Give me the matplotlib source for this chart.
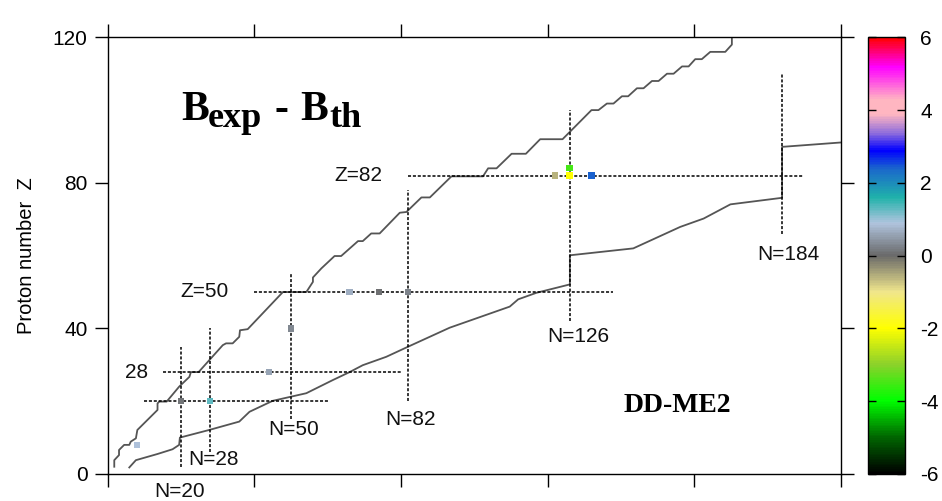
import numpy as np
import matplotlib
matplotlib.use('Agg')
import matplotlib.pyplot as plt
from matplotlib.colors import LinearSegmentedColormap, Normalize
from matplotlib.cm import ScalarMappable

plt.rcParams['font.family'] = ['Liberation Sans', 'DejaVu Sans']
plt.rcParams['axes.unicode_minus'] = False

# proton drip line (N, Z)
up_N = [1.8, 1.8, 3.1, 3.1, 4.5, 5.9, 6.3, 7.7, 8.1, 13.6, 13.6, 14.1, 16.1,
        19.5, 22.3, 22.7, 24.8, 31.4, 32.3, 34.1, 35.9, 36.1, 38.2, 47.8, 54.2,
        56.0, 56.0, 58.3, 61.9, 63.7, 68.3, 69.6, 71.9, 74.2, 79.7, 81.5, 85.6,
        87.9, 93.8, 102.4, 103.8, 106.1, 110.2, 114.1, 118.0, 124.1, 132.0,
        133.9, 136.2, 138.0, 140.3, 142.0, 144.4, 146.2, 148.5, 150.3, 152.6,
        154.4, 156.7, 158.5, 160.3, 162.1, 164.4, 168.5, 170.3, 170.3]
up_Z = [2.0, 3.8, 5.2, 6.6, 8.0, 8.0, 8.9, 9.8, 12.1, 17.6, 19.4, 19.9, 19.9,
        24.0, 26.7, 28.0, 28.0, 35.4, 35.9, 35.9, 37.7, 39.5, 39.8, 50.0, 50.0,
        52.8, 54.0, 56.5, 59.9, 59.9, 64.0, 64.0, 66.1, 66.1, 71.8, 72.0, 76.0,
        76.0, 81.8, 81.8, 84.0, 84.0, 88.0, 88.0, 92.0, 92.0, 100.0,
        100.0, 101.8, 101.8, 103.8, 103.8, 106.0, 106.0, 108.0, 108.0, 110.0,
        110.0, 112.0, 112.0, 114.0, 114.0, 116.0, 116.0, 118.0, 120.0]

# neutron drip line (N, Z)
lo_N = [5.9, 7.7, 13.6, 17.7, 19.5, 19.7, 27.7, 35.9, 38.7, 45.0, 54.2, 61.4,
        66.0, 69.6, 76.0, 82.0, 93.3, 109.7, 112.0, 117.0, 126.1, 126.1, 143.4,
        156.2, 162.6, 169.9, 184.0, 184.0, 200.0]
lo_Z = [1.8, 3.8, 5.5, 6.8, 8.0, 10.0, 12.1, 14.4, 17.1, 20.1, 22.2, 25.8,
        28.0, 29.9, 32.2, 35.0, 40.2, 46.0, 48.0, 49.8, 52.1, 60.1, 62.0,
        67.9, 70.2, 74.1, 75.9, 89.9, 91.1]

# magic number guide lines
vline_N = [20, 28, 50, 82, 126, 184]
vline_lo = [2, 6, 15, 20, 42, 66]
vline_hi = [35, 40, 55, 78, 100, 110]
hline_Z = [20, 28, 50, 82]
hline_lo = [10, 15, 40, 82]
hline_hi = [60, 80, 138, 190]

# nuclei with B_exp - B_th (MeV)
nuc_N = [8, 20, 28, 44, 50, 66, 74, 82, 122, 126, 126, 132]
nuc_Z = [8, 20, 20, 28, 40, 50, 50, 50, 82, 82, 84, 82]
nuc_dB = [0.85, 0.1, 1.3, 0.6, 0.3, 0.7, 0.05, 0.25, -0.6, -2.0, -3.5, 2.4]

labels = ["Z=82", "Z=50", "28", "N=20", "N=28", "N=50", "N=82", "N=126", "N=184"]
label_N = [68.4, 26.4, 8.0, 19.7, 28.8, 50.6, 82.6, 128.4, 185.7]
label_Z = [82.0, 50.2, 27.9, -4.9, 4.1, 12.2, 15.0, 37.8, 60.4]

# colour palette nodes
pal_v = [-6, -5, -4, -3, -2, -1, 0, 0.9, 1.6, 2.4, 2.9, 3.4, 3.9, 4.3, 5.2, 6]
pal_c = ['#000000', '#006600', '#00ff00', '#8cd12b', '#ffff00', '#f0e68c',
         '#696969', '#b0c4de', '#20b2aa', '#1a66cc', '#0000ff', '#9370db',
         '#ffb6c1', '#ffb6c1', '#ff00ff', '#ff0000']

cmap = LinearSegmentedColormap.from_list(
    'dB', [((v + 6) / 12.0, c) for v, c in zip(pal_v, pal_c)])
norm = Normalize(-6, 6)

fig = plt.figure(figsize=(9.42, 5.01), dpi=100)
ax = fig.add_axes([0.1143, 0.0539, 0.7782, 0.8716])
cax = fig.add_axes([0.9218, 0.0539, 0.039, 0.8716])

ax.plot(up_N, up_Z, color='#555555', lw=1.3)
ax.plot(lo_N, lo_Z, color='#555555', lw=1.3)

ls = (0, (2, 1.2))
for n, a, b in zip(vline_N, vline_lo, vline_hi):
    ax.plot([n, n], [a, b], color='black', lw=1.1, linestyle=ls)
for z, a, b in zip(hline_Z, hline_lo, hline_hi):
    ax.plot([a, b], [z, z], color='black', lw=1.1, linestyle=ls)

ax.scatter(nuc_N, nuc_Z, c=nuc_dB, cmap=cmap, norm=norm, marker='s', s=20,
           linewidths=0, zorder=5)

for t, n, z in zip(labels, label_N, label_Z):
    ax.text(n, z, t, ha='center', va='center', fontsize=15, color='#111111')

# title "B_exp - B_th" built from pieces (large subscripts as in the original)
serif = dict(family='Liberation Serif', fontweight='bold', va='baseline')
ax.text(20.1, 97.2, 'B', fontsize=30, **serif)
ax.text(27.2, 95.3, 'exp', fontsize=26, **serif)
ax.text(45.5, 97.2, '-', fontsize=30, **serif)
ax.text(52.6, 97.2, 'B', fontsize=30, **serif)
ax.text(60.4, 95.3, 'th', fontsize=26, **serif)
ax.text(155.4, 17.1, 'DD-ME2', fontsize=20, family='Liberation Serif',
        fontweight='bold', ha='center', va='baseline')

ax.set_xlim(0, 200)
ax.set_ylim(0, 120)
ax.set_xticks(np.arange(0, 201, 40))
ax.set_yticks([0, 40, 80, 120])
ax.set_xticklabels([])
ax.tick_params(direction='out', length=9.4, width=1, labelsize=15,
               top=True, right=True, pad=5)
ax.set_ylabel('Proton number  Z', fontsize=14.5, labelpad=12)
for s in ax.spines.values():
    s.set_linewidth(1)

cb = fig.colorbar(ScalarMappable(norm=norm, cmap=cmap), cax=cax,
                  ticks=np.arange(-6, 7, 2))
cb.outline.set_linewidth(1)
cax.tick_params(direction='in', length=6, width=1, labelsize=15, pad=11,
                left=True, right=True)

fig.savefig('out.png', dpi=100)
